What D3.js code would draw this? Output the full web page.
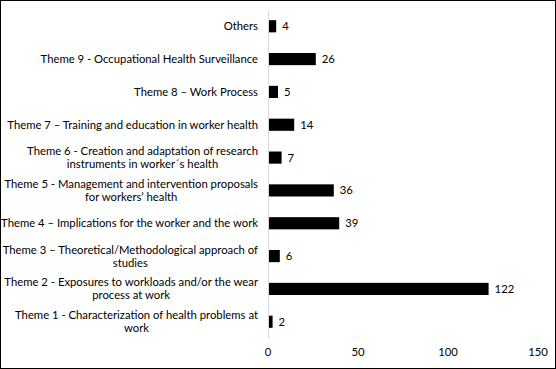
<!DOCTYPE html>
<html>
<head>
<meta charset="utf-8">
<script src="https://cdn.jsdelivr.net/npm/d3@7"></script>
<style>
  body { margin: 0; background: #fff; }
  svg { display: block; }
  text { font-family: Lato, "Open Sans", sans-serif; font-size: 11.3px; fill: #000; }
</style>
</head>
<body>
<div id="chart"></div>
<script>
// categories top to bottom, lines split as in the original wrapping
let categories = [
    ["Others"],
    ["Theme 9 - Occupational Health Surveillance"],
    ["Theme 8 \u2013 Work Process"],
    ["Theme 7 \u2013 Training and education in worker health "],
    ["Theme 6 - Creation and adaptation of research", "instruments in worker\u00b4s health"],
    ["Theme 5 - Management and intervention proposals", "for workers\u2019 health"],
    ["Theme 4 \u2013 Implications for the worker and the work"],
    ["Theme 3 \u2013 Theoretical/Methodological approach of", "studies"],
    ["Theme 2 - Exposures to workloads and/or the wear", "process at work"],
    ["Theme 1 - Characterization of health problems at", "work"]
];
let values = [4, 26, 5, 14, 7, 36, 39, 6, 122, 2];
let xTicks = [0, 50, 100, 150];

let W = 556, H = 369;
let margin = {top: 10, right: 18, bottom: 31, left: 268};
let width = W - margin.left - margin.right;
let height = H - margin.top - margin.bottom;

let svg = d3.select("#chart").append("svg")
    .attr("width", W)
    .attr("height", H);

svg.append("rect")
    .attr("x", 0.5).attr("y", 0.5)
    .attr("width", W - 1).attr("height", H - 1)
    .attr("fill", "#fff")
    .attr("stroke", "#000");

let g = svg.append("g")
    .attr("transform", "translate(" + margin.left + "," + margin.top + ")");

let x = d3.scaleLinear().domain([0, 150]).range([0, width]);
let y = d3.scaleBand()
    .domain(d3.range(categories.length))
    .range([0, height])
    .paddingInner(0.63)
    .paddingOuter(0.31);

// bars
g.selectAll("rect.bar")
    .data(values)
    .enter().append("rect")
    .attr("class", "bar")
    .attr("x", x(0) + 1)
    .attr("y", function(d, i) { return y(i); })
    .attr("width", function(d) { return x(d) - x(0); })
    .attr("height", y.bandwidth())
    .attr("fill", "#000");

// value labels
g.selectAll("text.val")
    .data(values)
    .enter().append("text")
    .attr("class", "val")
    .attr("x", function(d) { return x(d) + 7; })
    .attr("y", function(d, i) { return y(i) + y.bandwidth() / 2; })
    .attr("dy", "0.35em")
    .text(function(d) { return d; });

// vertical axis line
g.append("line")
    .attr("x1", x(0) + 0.5).attr("x2", x(0) + 0.5)
    .attr("y1", 0).attr("y2", height)
    .attr("stroke", "#d9d9d9");

// x tick labels
g.selectAll("text.tick")
    .data(xTicks)
    .enter().append("text")
    .attr("class", "tick")
    .attr("x", function(d) { return x(d); })
    .attr("y", height + 18)
    .attr("text-anchor", "middle")
    .text(function(d) { return d; });

// category labels: longest line right-aligned, others centred on it
let lineH = 13;
let labelRight = -10;
categories.forEach(function(lines, i) {
    let cy = y(i) + y.bandwidth() / 2;
    let grp = g.append("g");
    let texts = lines.map(function(l, j) {
        return grp.append("text")
            .attr("y", cy + (j - (lines.length - 1) / 2) * lineH)
            .attr("dy", "0.35em")
            .text(l);
    });
    let widths = texts.map(function(t) { return t.node().getComputedTextLength(); });
    let maxW = d3.max(widths);
    let centre = labelRight - maxW / 2;
    texts.forEach(function(t) {
        t.attr("x", centre).attr("text-anchor", "middle");
    });
});
</script>
</body>
</html>
